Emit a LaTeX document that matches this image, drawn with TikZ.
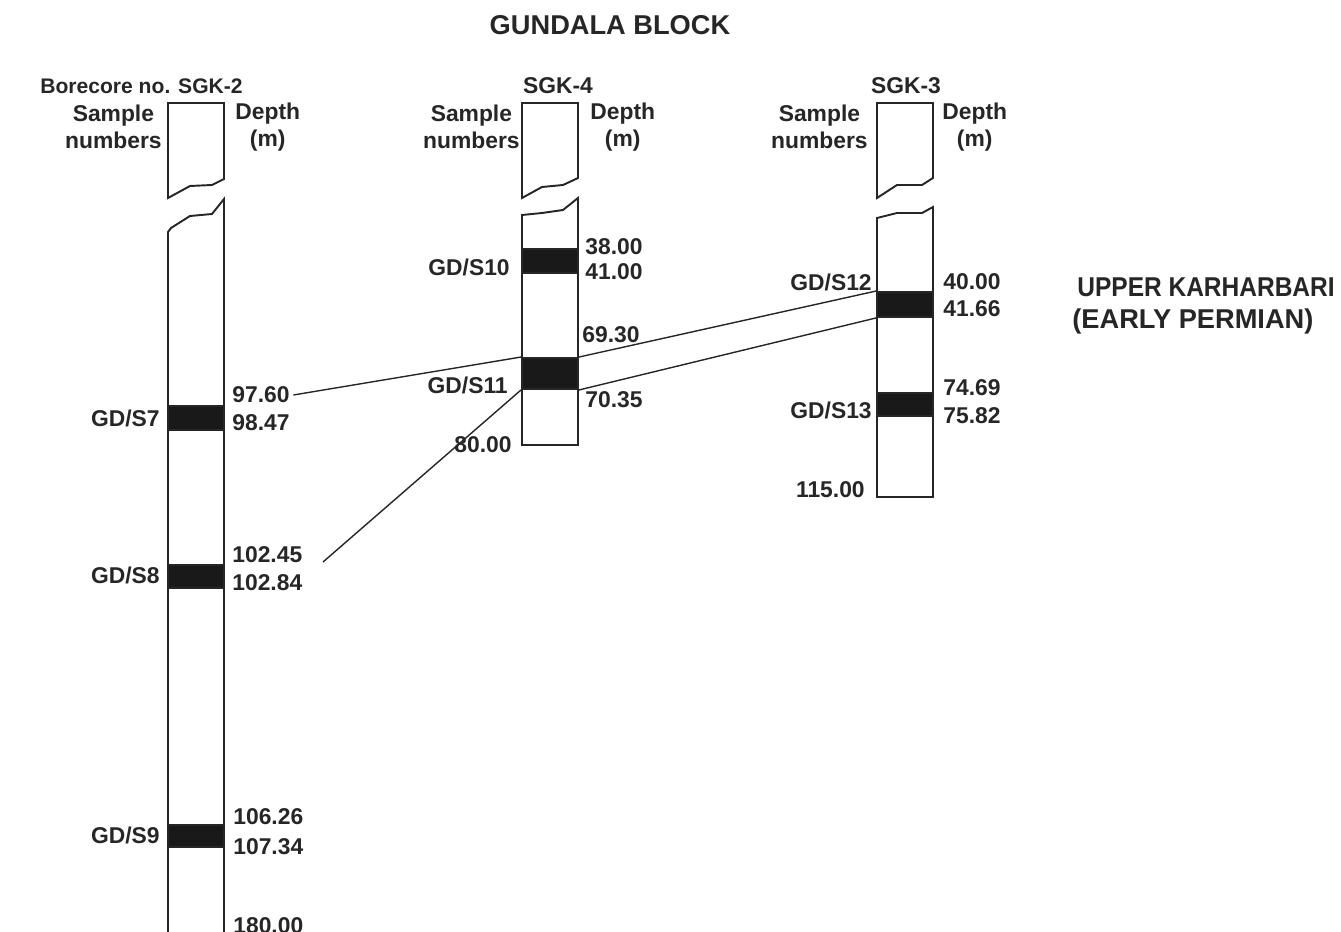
\documentclass[tikz,border=0pt]{standalone}
\usepackage{fontspec}
\usepackage{graphicx}
\setmainfont{Liberation Sans}
\usetikzlibrary{positioning}
\tikzset{
  every picture/.style={font=\bfseries\fontsize{13}{15.3}\selectfont, x=0.02cm, y=-0.02cm},
  core/.style={draw=black!85, line width=1.1pt, line join=miter},
  band/.style={draw=black!85, fill=black!90, line width=1.1pt, inner sep=0pt, minimum width=1.12cm},
  smp/.style={anchor=east, inner sep=0pt, text=black!85},
  dep/.style={anchor=west, inner sep=0pt, text=black!85},
  head/.style={inner sep=0pt, align=center, text=black!85},
  tie/.style={draw=black!85, line width=0.8pt},
  title/.style={inner sep=0pt, text=black!85, font=\bfseries\fontsize{15.5}{18}\selectfont},
}

\begin{document}
\begin{tikzpicture}
  \useasboundingbox (0,0) rectangle (1341,932);
  % titles
  \node[title] (block) at (610,25) {GUNDALA BLOCK};
  \node[title, anchor=west] (upper) at (1077,287) {\scalebox{0.9}[1]{UPPER KARHARBARI}};
  \node[title, anchor=west] (early) at (1072,321) {(EARLY PERMIAN)};
  % borecore headers
  \node[head, anchor=west, font=\bfseries\fontsize{12}{14}\selectfont] (bc2) at (40,86) {Borecore no. SGK-2};
  \node[head] (bc4) at (558,86) {SGK-4};
  \node[head] (bc3) at (906,86) {SGK-3};
  \foreach \c/\sx/\dx in {2/162/235, 4/520/590, 3/868/942} {
    \node[head, anchor=east] (smp\c) at (\sx,127) {Sample\\numbers};
    \node[head, anchor=west] (dep\c) at (\dx,127) {Depth\\(m)};
  }
  % cores with break
  \draw[core] (168,103) -- (224,103) -- (224,179) -- (212,185) -- (190,186) -- (168,198) -- cycle;
  \draw[core] (168,945) -- (168,232) -- (171,228) -- (190,216) -- (212,214) -- (224,199) -- (224,945);
  \draw[core] (522,103) -- (578,103) -- (578,178) -- (563,185) -- (542,187) -- (522,198) -- cycle;
  \draw[core] (522,445) -- (522,215) -- (542,213) -- (563,210) -- (578,198) -- (578,445) -- cycle;
  \draw[core] (877,103) -- (933,103) -- (933,178) -- (922,185) -- (897,185) -- (877,198) -- cycle;
  \draw[core] (877,497) -- (877,218) -- (897,213) -- (922,213) -- (933,207) -- (933,497) -- cycle;
  % sampled seams
  \foreach \n/\x/\y/\h in {7/196/418/24, 8/196/576.5/23, 9/196/836/22,
      10/550/261/24, 11/550/373.5/31, 12/905/304.5/25, 13/905/404.5/23}
    \node[band, minimum height=\h*0.02cm] (s\n) at (\x,\y) {};
  \foreach \n/\x/\y in {7/160/418, 8/160/575, 9/160/835, 10/510/267,
      11/508/385, 12/872/282, 13/872/410}
    \node[smp] (g\n) at (\x,\y) {GD/S\n};
  % depths
  \foreach \nm/\v/\x/\y in {d9760/97.60/232/395, d9847/98.47/232/423, d10245/102.45/232/555,
      d10284/102.84/232/583, d10626/106.26/233/817, d10734/107.34/233/847, d18000/180.00/233/926,
      d3800/38.00/585/247, d4100/41.00/585/272, d6930/69.30/582/335, d7035/70.35/585/400,
      d4000/40.00/943/282, d4166/41.66/943/309, d7469/74.69/943/388, d7582/75.82/943/416}
    \node[dep] (\nm) at (\x,\y) {\v};
  \node[smp] (d8000) at (512,445) {80.00};
  \node[smp] (d11500) at (865,490) {115.00};
  % correlation
  \coordinate (t2) at (323,562);
  \draw[tie] ([xshift=2pt]d9760.east) -- (s11.north west);
  \draw[tie] (s11.north east) -- (s12.north west);
  \draw[tie] (t2) -- (s11.south west);
  \draw[tie] (s11.south east) -- (s12.south west);
\end{tikzpicture}
\end{document}
